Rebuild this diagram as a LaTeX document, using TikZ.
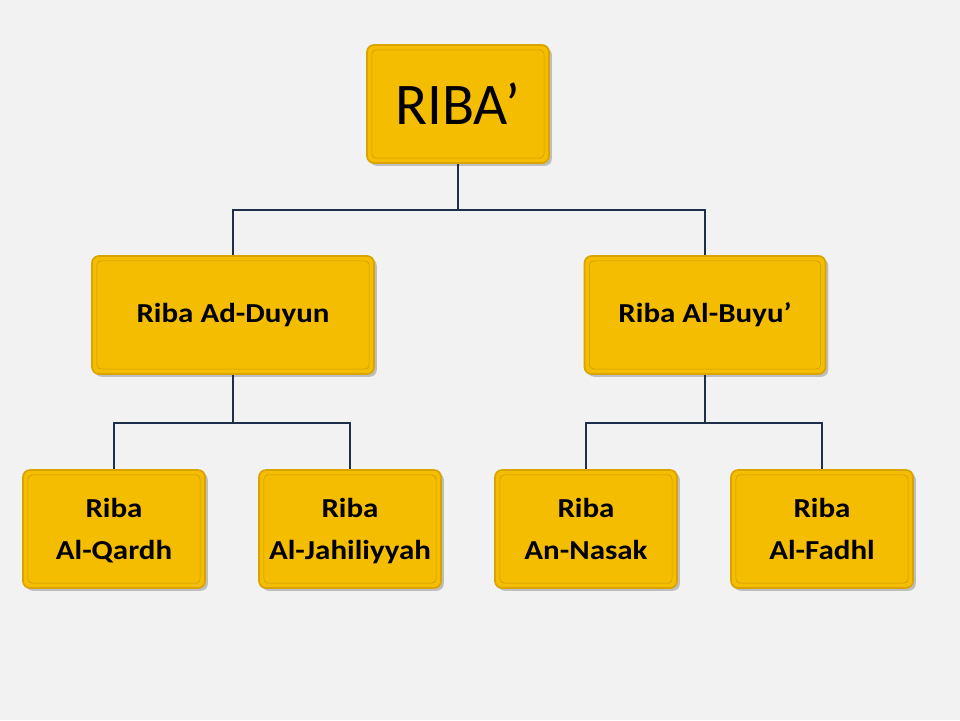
\documentclass[tikz,border=0pt]{standalone}
\usepackage{fontspec}
\setmainfont{Carlito}
\newfontfamily\boxfont{Carlito}[FakeStretch=1.13]
\usepackage{tikz}
\usetikzlibrary{positioning,shadows,calc}
\definecolor{bgpage}{HTML}{F2F2F2}
\definecolor{gold}{HTML}{F5BD00}
\definecolor{goldedge}{HTML}{D9A400}
\definecolor{goldrim}{HTML}{C99A00}
\definecolor{navyline}{HTML}{1F2F4A}
\tikzset{
  gbox/.style={draw=goldedge,fill=gold,line width=1.2pt,rounded corners=5pt,
               minimum height=2.95cm,align=center,
               drop shadow={opacity=0.45,shadow xshift=2pt,shadow yshift=-2pt},
               path picture={\draw[goldrim,line width=0.4pt,rounded corners=3pt]
                 ([shift={(3.5pt,3.5pt)}]path picture bounding box.south west) rectangle
                 ([shift={(-3.5pt,-3.5pt)}]path picture bounding box.north east);}},
  rootbox/.style={gbox,minimum width=4.55cm,font=\fontsize{42}{44}\selectfont},
  midbox/.style={gbox,font=\boxfont\fontsize{19.5}{30}\selectfont\bfseries},
  leafbox/.style={gbox,minimum width=4.55cm,text depth=0pt,
                  font=\boxfont\fontsize{19.5}{30}\selectfont\bfseries},
  conn/.style={navyline,line width=1.6pt},
}
\begin{document}
\begin{tikzpicture}
  \fill[bgpage] (0,0) rectangle (24,18);
  %% Root
  \node[rootbox] (riba) at (11.45,15.4) {RIBA’};
  %% Second level
  \node[midbox,minimum width=7.05cm]  (duyun) at (5.825,10.125) {Riba Ad-Duyun};
  \node[midbox,minimum width=6.025cm] (buyu)  at (17.625,10.125) {Riba Al-Buyu’};
  %% Leaves
  \node[leafbox] (qardh)  at (2.85,4.775)  {Riba\\Al-Qardh};
  \node[leafbox] (jahil)  at (8.75,4.775)  {Riba\\Al-Jahiliyyah};
  \node[leafbox] (nasak)  at (14.65,4.775) {Riba\\An-Nasak};
  \node[leafbox] (fadhl)  at (20.55,4.775) {Riba\\Al-Fadhl};

  %% Junctions
  \coordinate (j0) at ($(riba.south)+(0,-1.15)$);
  \coordinate (j1) at ($(duyun.south)+(0,-1.2)$);
  \coordinate (j2) at ($(buyu.south)+(0,-1.2)$);

  %% Connectors
  \draw[conn] (riba.south) -- (j0);
  \draw[conn] (duyun.north) |- (j0) -| (buyu.north);
  \draw[conn] (duyun.south) -- (j1);
  \draw[conn] (qardh.north) |- (j1) -| (jahil.north);
  \draw[conn] (buyu.south) -- (j2);
  \draw[conn] (nasak.north) |- (j2) -| (fadhl.north);
\end{tikzpicture}
\end{document}
